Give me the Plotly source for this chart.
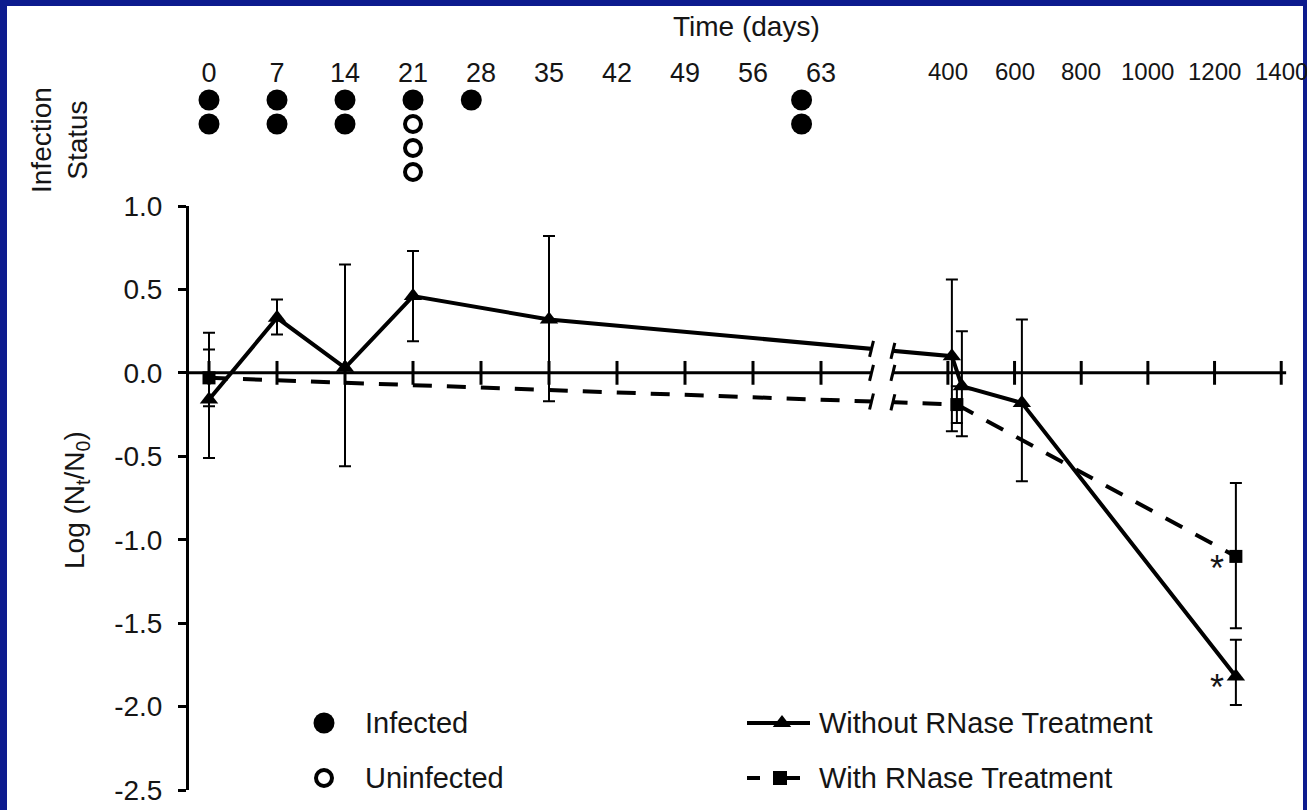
import numpy as np
import plotly.graph_objects as go

# ---------------- data ----------------
days_without = [0, 7, 14, 21, 35, 412, 442, 622, 1264]
logratio_without = [-0.16, 0.33, 0.03, 0.46, 0.32, 0.10, -0.08, -0.18, -1.82]
upper_without = [0.24, 0.44, 0.65, 0.73, 0.82, 0.56, 0.25, 0.32, -1.60]
lower_without = [-0.51, 0.23, -0.56, 0.19, -0.17, -0.35, -0.38, -0.65, -1.99]

days_with = [0, 427, 1264]
logratio_with = [-0.03, -0.19, -1.10]
upper_with = [0.14, -0.08, -0.66]
lower_with = [-0.20, -0.30, -1.53]

status_days = [0, 7, 14, 21, 27, 61]
n_infected = [2, 2, 2, 1, 1, 2]
n_uninfected = [0, 0, 0, 3, 0, 0]

left_ticks = [0, 7, 14, 21, 28, 35, 42, 49, 56, 63]
right_ticks = [400, 600, 800, 1000, 1200, 1400]
y_ticks = [1.0, 0.5, 0.0, -0.5, -1.0, -1.5, -2.0, -2.5]

significant = [("without", 1264), ("with", 1264)]

# ---------------- broken time axis ----------------
BREAK_LEFT = 68.2      # last day of the left (weekly) segment
GAP = 2.2              # width of the break, in left-segment day units
RIGHT_START = 235      # first day of the right (long-term) segment
RIGHT_RATIO = 0.034314 # scale of the right segment relative to the left


def u(d):
    d = np.asarray(d, dtype=float)
    return np.where(d <= BREAK_LEFT, d, BREAK_LEFT + GAP + (d - RIGHT_START) * RIGHT_RATIO)


FONT = "Liberation Sans, Arial, sans-serif"
TXT = "#151515"
BLUE = "#0d1b8e"

fig = go.Figure()

# x-axis ticks on the zero line (crossing ticks)
all_ticks = left_ticks + right_ticks
fig.add_trace(go.Scatter(
    x=u(all_ticks), y=[0] * len(all_ticks), mode="markers",
    marker=dict(symbol="line-ns", size=17, line=dict(width=3, color="black")),
    hoverinfo="skip", showlegend=False))

# With RNase (dashed, squares)
fig.add_trace(go.Scatter(
    x=u(days_with), y=logratio_with, mode="lines+markers",
    line=dict(color="black", width=4, dash="19px,15px"),
    marker=dict(symbol="square", size=13, color="black"),
    error_y=dict(type="data", symmetric=False,
                 array=[a - v for a, v in zip(upper_with, logratio_with)],
                 arrayminus=[v - b for b, v in zip(lower_with, logratio_with)],
                 color="black", thickness=2, width=6),
    showlegend=False))

# Without RNase (solid, triangles)
fig.add_trace(go.Scatter(
    x=u(days_without), y=logratio_without, mode="lines+markers",
    line=dict(color="black", width=4),
    marker=dict(symbol="triangle-up", size=16, color="black"),
    error_y=dict(type="data", symmetric=False,
                 array=[a - v for a, v in zip(upper_without, logratio_without)],
                 arrayminus=[v - b for b, v in zip(lower_without, logratio_without)],
                 color="black", thickness=2, width=6),
    showlegend=False))

# Infection status dots
inf_x, inf_y, un_x, un_y = [], [], [], []
for d, ni, nu in zip(status_days, n_infected, n_uninfected):
    for k in range(ni):
        inf_x.append(d); inf_y.append(k + 1)
    for k in range(nu):
        un_x.append(d); un_y.append(ni + k + 1)
fig.add_trace(go.Scatter(x=u(inf_x), y=inf_y, yaxis="y2", mode="markers",
                         marker=dict(symbol="circle", size=21, color="black"),
                         showlegend=False))
fig.add_trace(go.Scatter(x=u(un_x), y=un_y, yaxis="y2", mode="markers",
                         marker=dict(symbol="circle-open", size=16, color="black",
                                     line=dict(width=4, color="black")),
                         showlegend=False))

# ---------------- hand-placed legend (overlay axis in pixel units) ----------------
LX1, LT1, LT2 = 324, 363, 817
LY1, LY2 = 723, 778
fig.add_trace(go.Scatter(x=[LX1], y=[LY1], xaxis="x3", yaxis="y3", mode="markers",
                         marker=dict(symbol="circle", size=21, color="black"), showlegend=False))
fig.add_trace(go.Scatter(x=[LX1], y=[LY2], xaxis="x3", yaxis="y3", mode="markers",
                         marker=dict(symbol="circle-open", size=16, color="black",
                                     line=dict(width=4, color="black")), showlegend=False))
fig.add_trace(go.Scatter(x=[747, 810], y=[LY1, LY1], xaxis="x3", yaxis="y3", mode="lines",
                         line=dict(color="black", width=4), showlegend=False))
fig.add_trace(go.Scatter(x=[782], y=[LY1], xaxis="x3", yaxis="y3", mode="markers",
                         marker=dict(symbol="triangle-up", size=16, color="black"), showlegend=False))
fig.add_trace(go.Scatter(x=[747, 760, None, 787, 800], y=[LY2, LY2, None, LY2, LY2],
                         xaxis="x3", yaxis="y3", mode="lines",
                         line=dict(color="black", width=4), showlegend=False))
fig.add_trace(go.Scatter(x=[780], y=[LY2], xaxis="x3", yaxis="y3", mode="markers",
                         marker=dict(symbol="square", size=14, color="black"), showlegend=False))

legend_texts = [(LT1, LY1, "Infected"), (LT1, LY2, "Uninfected"),
                (LT2, LY1, "Without RNase Treatment"), (LT2, LY2, "With RNase Treatment")]

# ---------------- shapes ----------------
shapes = []
# frame
shapes.append(dict(type="rect", xref="paper", yref="paper", x0=-0.2, x1=1.1, y0=1.1168, y1=1.2,
                   fillcolor=BLUE, line_width=0, layer="below"))
shapes.append(dict(type="rect", xref="paper", yref="paper", x0=-0.2, x1=-0.1653, y0=-0.1, y1=1.2,
                   fillcolor=BLUE, line_width=0, layer="below"))
shapes.append(dict(type="rect", xref="paper", yref="paper", x0=1.01181, x1=1.1, y0=-0.1, y1=1.2,
                   fillcolor=BLUE, line_width=0, layer="below"))
# x axis line at y = 0
shapes.append(dict(type="line", xref="x domain", yref="y", x0=0, x1=0.9965, y0=0, y1=0,
                   line=dict(color="black", width=3), layer="below"))
# white gap of the axis break
uL, uR = BREAK_LEFT, BREAK_LEFT + GAP
shapes.append(dict(type="rect", xref="x", yref="y", x0=uL, x1=uR, y0=-0.4, y1=0.35,
                   fillcolor="white", line_width=0, layer="above"))
# break marks on each line
ys_solid = np.interp([uL, uR], u(days_without), logratio_without)
ys_dash = np.interp([uL, uR], u(days_with), logratio_with)
for xb, yvals in ((uL, (0, ys_solid[0], ys_dash[0])), (uR, (0, ys_solid[1], ys_dash[1]))):
    for yb in yvals:
        shapes.append(dict(type="line", xref="x", yref="y",
                           x0=xb - 0.2, x1=xb + 0.2, y0=yb - 0.048, y1=yb + 0.048,
                           line=dict(color="black", width=3), layer="above"))

# ---------------- annotations ----------------
ann = []
for t in right_ticks:
    ann.append(dict(x=float(u(t)), xref="x", y=(790 - 71) / 702, yref="paper", text=str(t),
                    xanchor="center", yanchor="middle", showarrow=False,
                    font=dict(size=24, color=TXT, family=FONT)))
ann.append(dict(x=(746 - 189) / 1101, y=(790 - 27) / 702, xref="paper", yref="paper",
                xanchor="center", yanchor="middle",
                text="Time (days)", showarrow=False, font=dict(size=28, color=TXT, family=FONT)))
ann.append(dict(x=(59 - 189) / 1101, y=(790 - 140) / 702, xref="paper", yref="paper",
                xanchor="center", yanchor="middle",
                text="Infection<br>Status", textangle=-90, showarrow=False,
                font=dict(size=28, color=TXT, family=FONT)))
ann.append(dict(x=(76 - 189) / 1101, y=(790 - 500) / 702, xref="paper", yref="paper",
                xanchor="center", yanchor="middle",
                text="Log (N<sub>t</sub>/N<sub>0</sub>)", textangle=-90, showarrow=False,
                font=dict(size=28, color=TXT, family=FONT)))
for series, d in significant:
    if series == "with":
        yv = logratio_with[days_with.index(d)]
        ys = -12
    else:
        yv = logratio_without[days_without.index(d)]
        ys = -11
    ann.append(dict(x=float(u(d)), y=yv, xref="x", yref="y", text="*", showarrow=False,
                    xanchor="center", yanchor="middle",
                    xshift=-19, yshift=ys, font=dict(size=36, color=TXT, family=FONT)))
for lx, ly, txt in legend_texts:
    ann.append(dict(x=lx, y=ly, xref="x3", yref="y3", text=txt, showarrow=False,
                    xanchor="left", yanchor="middle", font=dict(size=29, color=TXT, family=FONT)))

fig.update_layout(
    width=1307, height=810, autosize=False,
    margin=dict(l=189, r=17, t=88, b=20, autoexpand=False),
    paper_bgcolor="white", plot_bgcolor="white",
    font=dict(family=FONT, color=TXT),
    showlegend=False,
    xaxis=dict(range=[-2.059, 111.28], domain=[0, 1], anchor="y2", side="top",
               tickvals=u(left_ticks), ticktext=[str(t) for t in left_ticks],
               ticks="", showline=False, showgrid=False, zeroline=False, automargin=False,
               tickfont=dict(size=27, color=TXT, family=FONT)),
    yaxis=dict(range=[-2.5, 1.0], domain=[0, (790 - 206) / 702], anchor="x",
               tickvals=y_ticks, ticktext=[f"{v:.1f}" for v in y_ticks],
               ticks="outside", ticklen=8, tickwidth=3, tickcolor="black",
               showline=True, linewidth=3, linecolor="black", automargin=False,
               showgrid=False, zeroline=False, ticklabelstandoff=10,
               tickfont=dict(size=28, color=TXT, family=FONT)),
    yaxis2=dict(range=[4.5, 0.5], domain=[(790 - 184) / 702, 1], anchor="x",
                visible=False),
    xaxis3=dict(range=[189, 1290], overlaying="x", anchor="y3", visible=False),
    yaxis3=dict(range=[790, 206], overlaying="y", anchor="x3", visible=False),
    shapes=shapes,
    annotations=ann,
)

fig.write_html("out.html",
               config={"displayModeBar": False, "responsive": False},
               default_width="1307px", default_height="810px",
               post_script="document.body.style.margin='0px';document.body.style.overflow='hidden';")
